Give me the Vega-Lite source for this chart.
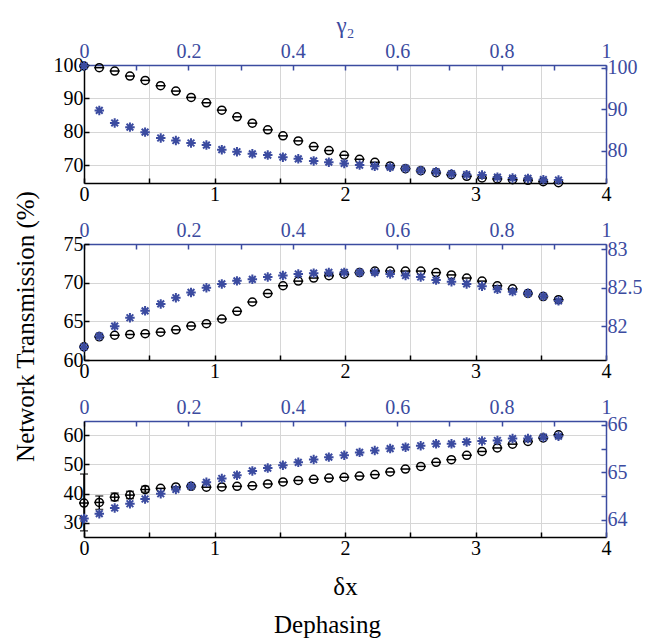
{
  "$schema": "https://vega.github.io/schema/vega-lite/v6.json",
  "background": "white",
  "padding": {"left": 13, "top": 14, "right": 0, "bottom": 0},
  "config": {
    "view": {"stroke": null},
    "font": "Liberation Serif",
    "axis": {
      "labelFont": "Liberation Serif", "titleFont": "Liberation Serif",
      "labelFontSize": 20, "titleFontSize": 25, "titleFontWeight": "normal",
      "tickSize": -5, "labelPadding": 6, "gridColor": "#d6d6d6", "gridWidth": 1,
      "domainWidth": 1.5, "tickWidth": 1.5, "labelOverlap": false, "labelFlush": false, "labelBound": false,
      "labelColor": "black", "domainColor": "black", "tickColor": "black", "titleColor": "black"
    }
  },
  "datasets": {
    "p1": [
      {"x":0,"g":0,"black":99.7,"blue":100.4},
      {"x":0.117,"g":0.0293,"black":99.2,"blue":89.7},
      {"x":0.235,"g":0.0588,"black":98.2,"blue":86.7},
      {"x":0.352,"g":0.088,"black":96.7,"blue":85.7},
      {"x":0.469,"g":0.117,"black":95.4,"blue":84.5},
      {"x":0.587,"g":0.147,"black":93.8,"blue":83.1},
      {"x":0.704,"g":0.176,"black":92.2,"blue":82.5},
      {"x":0.821,"g":0.205,"black":90.3,"blue":81.9},
      {"x":0.938,"g":0.2345,"black":88.7,"blue":81.4},
      {"x":1.056,"g":0.264,"black":86.5,"blue":80.3},
      {"x":1.173,"g":0.293,"black":84.5,"blue":79.8},
      {"x":1.29,"g":0.3225,"black":82.6,"blue":79.3},
      {"x":1.408,"g":0.352,"black":80.6,"blue":79.0},
      {"x":1.525,"g":0.381,"black":78.8,"blue":78.5},
      {"x":1.642,"g":0.4105,"black":77.3,"blue":78.1},
      {"x":1.76,"g":0.44,"black":75.6,"blue":77.6},
      {"x":1.877,"g":0.469,"black":74.4,"blue":77.3},
      {"x":1.994,"g":0.4985,"black":73.0,"blue":77.0},
      {"x":2.111,"g":0.528,"black":71.8,"blue":76.6},
      {"x":2.229,"g":0.557,"black":70.9,"blue":76.3},
      {"x":2.346,"g":0.5865,"black":69.8,"blue":76.1},
      {"x":2.463,"g":0.616,"black":69.0,"blue":75.8},
      {"x":2.581,"g":0.645,"black":68.4,"blue":75.3},
      {"x":2.698,"g":0.6745,"black":67.8,"blue":75.0},
      {"x":2.815,"g":0.704,"black":67.2,"blue":74.5},
      {"x":2.933,"g":0.733,"black":66.7,"blue":74.3},
      {"x":3.05,"g":0.7625,"black":66.2,"blue":74.2},
      {"x":3.167,"g":0.792,"black":65.9,"blue":73.7},
      {"x":3.284,"g":0.821,"black":65.7,"blue":73.5},
      {"x":3.402,"g":0.8505,"black":65.5,"blue":73.4},
      {"x":3.519,"g":0.88,"black":65.1,"blue":73.1},
      {"x":3.636,"g":0.909,"black":64.8,"blue":73.0}
    ],
    "p2": [
      {"x":0,"g":0,"black":61.7,"blue":81.73},
      {"x":0.117,"g":0.0293,"black":63.0,"blue":81.87},
      {"x":0.235,"g":0.0588,"black":63.2,"blue":82.0},
      {"x":0.352,"g":0.088,"black":63.3,"blue":82.11},
      {"x":0.469,"g":0.117,"black":63.4,"blue":82.2},
      {"x":0.587,"g":0.147,"black":63.6,"blue":82.29},
      {"x":0.704,"g":0.176,"black":63.9,"blue":82.37},
      {"x":0.821,"g":0.205,"black":64.4,"blue":82.44},
      {"x":0.938,"g":0.2345,"black":64.7,"blue":82.5},
      {"x":1.056,"g":0.264,"black":65.3,"blue":82.55},
      {"x":1.173,"g":0.293,"black":66.3,"blue":82.59},
      {"x":1.29,"g":0.3225,"black":67.5,"blue":82.61},
      {"x":1.408,"g":0.352,"black":68.6,"blue":82.64},
      {"x":1.525,"g":0.381,"black":69.6,"blue":82.66},
      {"x":1.642,"g":0.4105,"black":70.2,"blue":82.68},
      {"x":1.76,"g":0.44,"black":70.6,"blue":82.69},
      {"x":1.877,"g":0.469,"black":70.9,"blue":82.7},
      {"x":1.994,"g":0.4985,"black":71.1,"blue":82.7},
      {"x":2.111,"g":0.528,"black":71.3,"blue":82.7},
      {"x":2.229,"g":0.557,"black":71.5,"blue":82.7},
      {"x":2.346,"g":0.5865,"black":71.5,"blue":82.68},
      {"x":2.463,"g":0.616,"black":71.5,"blue":82.66},
      {"x":2.581,"g":0.645,"black":71.5,"blue":82.64},
      {"x":2.698,"g":0.6745,"black":71.3,"blue":82.6},
      {"x":2.815,"g":0.704,"black":71.0,"blue":82.58},
      {"x":2.933,"g":0.733,"black":70.6,"blue":82.55},
      {"x":3.05,"g":0.7625,"black":70.2,"blue":82.52},
      {"x":3.167,"g":0.792,"black":69.6,"blue":82.48},
      {"x":3.284,"g":0.821,"black":69.2,"blue":82.45},
      {"x":3.402,"g":0.8505,"black":68.6,"blue":82.43},
      {"x":3.519,"g":0.88,"black":68.2,"blue":82.39},
      {"x":3.636,"g":0.909,"black":67.8,"blue":82.33}
    ],
    "p3": [
      {"x":0,"g":0,"black":36.8,"blue":64.03},
      {"x":0.117,"g":0.0293,"black":37.0,"blue":64.13},
      {"x":0.235,"g":0.0588,"black":38.8,"blue":64.25},
      {"x":0.352,"g":0.088,"black":39.5,"blue":64.34},
      {"x":0.469,"g":0.117,"black":41.4,"blue":64.44},
      {"x":0.587,"g":0.147,"black":41.8,"blue":64.55},
      {"x":0.704,"g":0.176,"black":42.3,"blue":64.64},
      {"x":0.821,"g":0.205,"black":42.5,"blue":64.71},
      {"x":0.938,"g":0.2345,"black":42.2,"blue":64.79},
      {"x":1.056,"g":0.264,"black":42.3,"blue":64.87},
      {"x":1.173,"g":0.293,"black":42.5,"blue":64.94},
      {"x":1.29,"g":0.3225,"black":42.7,"blue":65.03},
      {"x":1.408,"g":0.352,"black":43.3,"blue":65.09},
      {"x":1.525,"g":0.381,"black":44.0,"blue":65.15},
      {"x":1.642,"g":0.4105,"black":44.5,"blue":65.21},
      {"x":1.76,"g":0.44,"black":44.9,"blue":65.27},
      {"x":1.877,"g":0.469,"black":45.3,"blue":65.32},
      {"x":1.994,"g":0.4985,"black":45.6,"blue":65.36},
      {"x":2.111,"g":0.528,"black":46.0,"blue":65.42},
      {"x":2.229,"g":0.557,"black":46.5,"blue":65.46},
      {"x":2.346,"g":0.5865,"black":47.4,"blue":65.5},
      {"x":2.463,"g":0.616,"black":48.4,"blue":65.53},
      {"x":2.581,"g":0.645,"black":49.3,"blue":65.56},
      {"x":2.698,"g":0.6745,"black":50.7,"blue":65.6},
      {"x":2.815,"g":0.704,"black":51.6,"blue":65.6},
      {"x":2.933,"g":0.733,"black":53.1,"blue":65.64},
      {"x":3.05,"g":0.7625,"black":54.4,"blue":65.66},
      {"x":3.167,"g":0.792,"black":55.6,"blue":65.67},
      {"x":3.284,"g":0.821,"black":56.9,"blue":65.71},
      {"x":3.402,"g":0.8505,"black":57.8,"blue":65.71},
      {"x":3.519,"g":0.88,"black":59.0,"blue":65.74},
      {"x":3.636,"g":0.909,"black":60.1,"blue":65.76}
    ],
    "e3": [
      {"x":0,"lo":27.3,"hi":46.7},
      {"x":0.117,"lo":34.6,"hi":39.2},
      {"x":0.235,"lo":37.6,"hi":40.2},
      {"x":0.352,"lo":38.3,"hi":40.8},
      {"x":0.469,"lo":40.5,"hi":42.5}
    ]
  },
  "spacing": 61,
  "bounds": "flush",
  "title": {"text": "Dephasing", "orient": "bottom", "anchor": "middle", "font": "Liberation Serif", "fontSize": 25, "fontWeight": "normal", "color": "black", "offset": 14},
  "vconcat": [
    {
      "width": 522, "height": 118,
      "data": {"name": "p1"},
      "layer": [
        {"layer": [
          {"mark": {"type": "tick", "orient": "horizontal", "color": "black", "size": 10, "thickness": 1.5, "opacity": 1},
           "encoding": {
             "x": {"field": "x", "type": "quantitative", "scale": {"domain": [0, 4], "nice": false},
                   "axis": {"orient": "bottom", "title": null, "tickCount": 30, "labelOverlap": false, "values": [0,0.5,1,1.5,2,2.5,3,3.5,4], "format": ".1~f", "labelExpr": "datum.value % 1 == 0 ? datum.label : ''", "grid": true}},
             "y": {"field": "black", "type": "quantitative", "scale": {"domain": [64.7, 100], "nice": false, "zero": false},
                   "axis": {"orient": "left", "title": null, "tickCount": 30, "format": "d", "labelOverlap": false, "values": [70, 80, 90, 100], "grid": true}}
           }},
          {"mark": {"type": "point", "shape": "circle", "filled": false, "color": "black", "size": 64, "strokeWidth": 1.5, "opacity": 1},
           "encoding": {"x": {"field": "x", "type": "quantitative"}, "y": {"field": "black", "type": "quantitative"}}}
        ]},
        {"mark": {"type": "point", "shape": "M-1,0L1,0M0,-1L0,1M-0.71,-0.71L0.71,0.71M-0.71,0.71L0.71,-0.71", "filled": false, "color": "#3b4ba0", "size": 90, "strokeWidth": 2, "opacity": 1},
         "encoding": {
           "x": {"field": "g", "type": "quantitative", "scale": {"domain": [0, 1], "nice": false},
                 "axis": {"orient": "top", "title": "γ₂", "titleFontSize": 23, "titlePadding": 4, "labelPadding": 9, "tickCount": 30, "labelOverlap": false, "values": [0,0.1,0.2,0.3,0.4,0.5,0.6,0.7,0.8,0.9,1], "format": ".1~f", "labelExpr": "round(datum.value*10) % 2 == 0 ? datum.label : ''", "grid": false, "labelColor": "#3b4ba0", "domainColor": "#3b4ba0", "tickColor": "#3b4ba0", "titleColor": "#3b4ba0"}},
           "y": {"field": "blue", "type": "quantitative", "scale": {"domain": [72.3, 100.6], "nice": false, "zero": false},
                 "axis": {"orient": "right", "title": null, "tickCount": 30, "format": "d", "labelOverlap": false, "values": [80, 90, 100], "grid": false, "labelColor": "#3b4ba0", "domainColor": "#3b4ba0", "tickColor": "#3b4ba0"}}
         }}
      ],
      "resolve": {"scale": {"x": "independent", "y": "independent"}}
    },
    {
      "width": 522, "height": 116,
      "data": {"name": "p2"},
      "layer": [
        {"layer": [
          {"mark": {"type": "tick", "orient": "horizontal", "color": "black", "size": 10, "thickness": 1.5, "opacity": 1},
           "encoding": {
             "x": {"field": "x", "type": "quantitative", "scale": {"domain": [0, 4], "nice": false},
                   "axis": {"orient": "bottom", "title": null, "tickCount": 30, "labelOverlap": false, "values": [0,0.5,1,1.5,2,2.5,3,3.5,4], "format": ".1~f", "labelExpr": "datum.value % 1 == 0 ? datum.label : ''", "grid": true}},
             "y": {"field": "black", "type": "quantitative", "scale": {"domain": [60, 75], "nice": false, "zero": false},
                   "axis": {"orient": "left", "title": "Network Transmission (%)", "titleY": 82, "titlePadding": 25, "tickCount": 30, "format": "d", "labelOverlap": false, "values": [60, 65, 70, 75], "grid": true}}
           }},
          {"mark": {"type": "point", "shape": "circle", "filled": false, "color": "black", "size": 64, "strokeWidth": 1.5, "opacity": 1},
           "encoding": {"x": {"field": "x", "type": "quantitative"}, "y": {"field": "black", "type": "quantitative"}}}
        ]},
        {"mark": {"type": "point", "shape": "M-1,0L1,0M0,-1L0,1M-0.71,-0.71L0.71,0.71M-0.71,0.71L0.71,-0.71", "filled": false, "color": "#3b4ba0", "size": 90, "strokeWidth": 2, "opacity": 1},
         "encoding": {
           "x": {"field": "g", "type": "quantitative", "scale": {"domain": [0, 1], "nice": false},
                 "axis": {"orient": "top", "title": null, "labelPadding": 9, "tickCount": 30, "labelOverlap": false, "values": [0,0.1,0.2,0.3,0.4,0.5,0.6,0.7,0.8,0.9,1], "format": ".1~f", "labelExpr": "round(datum.value*10) % 2 == 0 ? datum.label : ''", "grid": false, "labelColor": "#3b4ba0", "domainColor": "#3b4ba0", "tickColor": "#3b4ba0"}},
           "y": {"field": "blue", "type": "quantitative", "scale": {"domain": [81.56, 83.07], "nice": false, "zero": false},
                 "axis": {"orient": "right", "title": null, "tickCount": 30, "labelOverlap": false, "values": [82, 82.5, 83], "format": ".1~f", "grid": false, "labelColor": "#3b4ba0", "domainColor": "#3b4ba0", "tickColor": "#3b4ba0"}}
         }}
      ],
      "resolve": {"scale": {"x": "independent", "y": "independent"}}
    },
    {
      "width": 522, "height": 116,
      "data": {"name": "p3"},
      "layer": [
        {"layer": [
          {"mark": {"type": "tick", "orient": "horizontal", "color": "black", "size": 10, "thickness": 1.5, "opacity": 1},
           "encoding": {
             "x": {"field": "x", "type": "quantitative", "scale": {"domain": [0, 4], "nice": false},
                   "axis": {"orient": "bottom", "title": "δx", "titlePadding": 16, "tickCount": 30, "labelOverlap": false, "values": [0,0.5,1,1.5,2,2.5,3,3.5,4], "format": ".1~f", "labelExpr": "datum.value % 1 == 0 ? datum.label : ''", "grid": true}},
             "y": {"field": "black", "type": "quantitative", "scale": {"domain": [25.2, 64.8], "nice": false, "zero": false},
                   "axis": {"orient": "left", "title": null, "tickCount": 30, "format": "d", "labelOverlap": false, "values": [30, 40, 50, 60], "grid": true}}
           }},
          {"data": {"name": "e3"},
           "mark": {"type": "errorbar", "ticks": {"size": 8, "thickness": 1.5}, "thickness": 1.5, "color": "black"},
           "encoding": {"x": {"field": "x", "type": "quantitative"}, "y": {"field": "lo", "type": "quantitative"}, "y2": {"field": "hi"}}},
          {"mark": {"type": "point", "shape": "circle", "filled": false, "color": "black", "size": 64, "strokeWidth": 1.5, "opacity": 1},
           "encoding": {"x": {"field": "x", "type": "quantitative"}, "y": {"field": "black", "type": "quantitative"}}}
        ]},
        {"mark": {"type": "point", "shape": "M-1,0L1,0M0,-1L0,1M-0.71,-0.71L0.71,0.71M-0.71,0.71L0.71,-0.71", "filled": false, "color": "#3b4ba0", "size": 90, "strokeWidth": 2, "opacity": 1},
         "encoding": {
           "x": {"field": "g", "type": "quantitative", "scale": {"domain": [0, 1], "nice": false},
                 "axis": {"orient": "top", "title": null, "labelPadding": 9, "tickCount": 30, "labelOverlap": false, "values": [0,0.1,0.2,0.3,0.4,0.5,0.6,0.7,0.8,0.9,1], "format": ".1~f", "labelExpr": "round(datum.value*10) % 2 == 0 ? datum.label : ''", "grid": false, "labelColor": "#3b4ba0", "domainColor": "#3b4ba0", "tickColor": "#3b4ba0"}},
           "y": {"field": "blue", "type": "quantitative", "scale": {"domain": [63.64, 66.08], "nice": false, "zero": false},
                 "axis": {"orient": "right", "title": null, "tickCount": 30, "labelOverlap": false, "values": [64, 64.5, 65, 65.5, 66], "format": ".1~f", "labelExpr": "datum.value % 1 == 0 ? datum.label : ''", "grid": false, "labelColor": "#3b4ba0", "domainColor": "#3b4ba0", "tickColor": "#3b4ba0"}}
         }}
      ],
      "resolve": {"scale": {"x": "independent", "y": "independent"}}
    }
  ]
}
